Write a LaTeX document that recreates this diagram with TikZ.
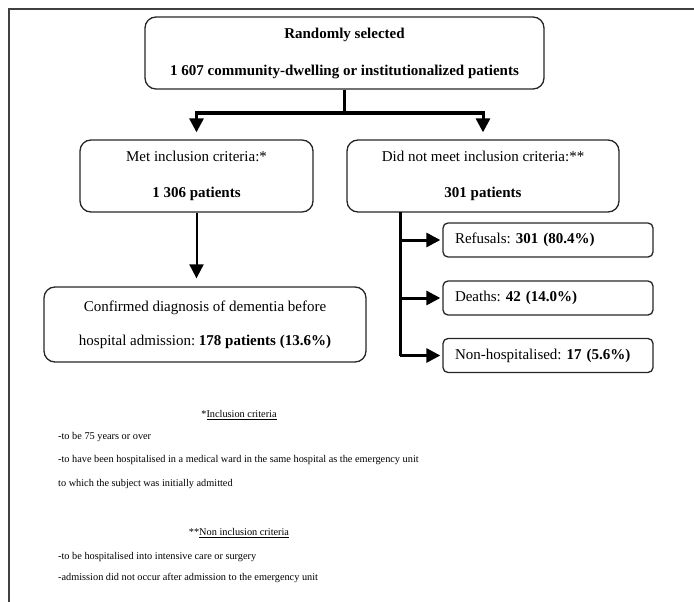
\documentclass[tikz,border=0pt]{standalone}
\usepackage{fontspec}
\setmainfont{Liberation Serif}
\usetikzlibrary{arrows.meta}
\frenchspacing
\begin{document}
\begin{tikzpicture}[x=1pt,y=-1pt,
  box/.style={draw=black!85, line width=1.3pt, rounded corners=11pt, align=center, inner sep=0pt,
    font=\fontsize{15}{18}\selectfont\frenchspacing},
  sbox/.style={draw=black!85, line width=1.3pt, rounded corners=5pt, align=left, inner ysep=0pt,
    inner xsep=12pt, text width=186pt, minimum height=34pt, font=\fontsize{15}{18}\selectfont\frenchspacing},
  conn/.style={line width=3pt, draw=black},
  lconn/.style={line width=2pt, draw=black},
  arr/.style={-{Triangle[length=14pt,width=14pt]}},
  fn/.style={inner sep=0pt, anchor=west, font=\fontsize{10.3}{12}\selectfont},
  fnhead/.style={inner sep=0pt, font=\fontsize{10.3}{12}\selectfont},
  frame/.style={line width=2pt, draw=black!75}]
\useasboundingbox (0,0) rectangle (694,602);
\draw[frame] (9,602) -- (9,9) -- (694,9);

\node[box, minimum width=399pt, minimum height=72pt] (top) at (344.5,53)
  {\textbf{Randomly selected}\\[19pt]\textbf{1 607 community-dwelling or institutionalized patients}};
\node[box, minimum width=233pt, minimum height=72pt] (met) at (196.5,176)
  {Met inclusion criteria:*\\[18pt]\textbf{1 306 patients}};
\node[box, minimum width=272pt, minimum height=72pt] (dnm) at (483,176)
  {Did not meet inclusion criteria:**\\[18pt]\textbf{301 patients}};
\node[box, minimum width=322pt, minimum height=75pt] (conf) at (205,324.5)
  {Confirmed diagnosis of dementia before\\[16pt]hospital admission: \textbf{178 patients (13.6\%)}};
\node[sbox] (ref) at (548,240) {Refusals: \textbf{301 (80.4\%)}};
\node[sbox] (dea) at (548,298) {Deaths: \textbf{42 (14.0\%)}};
\node[sbox] (non) at (548,355.5) {Non-hospitalised: \textbf{17 (5.6\%)}};

\coordinate (bar) at (344.5,113);
\draw[conn] (top.south) -- (bar);
\draw[conn, arr, shorten >=7pt] (bar) -| (met.north);
\draw[conn, arr, shorten >=7pt] (bar) -| (dnm.north);
\draw[lconn, arr, shorten >=8pt] (met.south) -- (met.south |- conf.north);

\coordinate (rtop) at (400,212);
\draw[conn] (rtop) -- (rtop |- non.west);
\draw[conn, arr, shorten >=2pt] (rtop |- ref.west) -- (ref.west);
\draw[conn, arr, shorten >=2pt] (rtop |- dea.west) -- (dea.west);
\draw[conn, arr, shorten >=2pt] (rtop |- non.west) -- (non.west);

\node[fnhead] (h1) at (239,415) {*\underline{Inclusion criteria}};
\node[fn] (a1) at (58,437) {-to be 75 years or over};
\node[fn] (a2) at (58,460) {-to have been hospitalised in a medical ward in the same hospital as the emergency unit};
\node[fn] (a3) at (58,484) {to which the subject was initially admitted};
\node[fnhead] (h2) at (239,533) {**\underline{Non inclusion criteria}};
\node[fn] (b1) at (58,557) {-to be hospitalised into intensive care or surgery};
\node[fn] (b2) at (58,578) {-admission did not occur after admission to the emergency unit};
\end{tikzpicture}
\end{document}
